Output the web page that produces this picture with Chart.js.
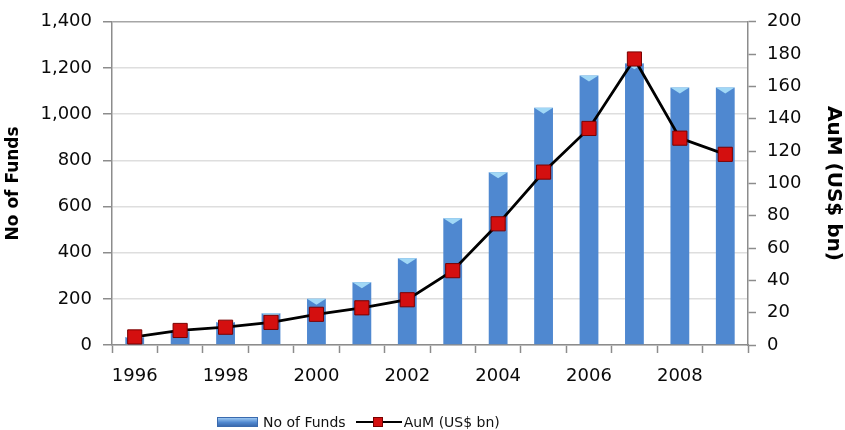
<!DOCTYPE html>
<html>
<head>
<meta charset="utf-8">
<script src="https://cdn.jsdelivr.net/npm/chart.js@4/dist/chart.umd.min.js"></script>
<style>
    body { margin: 0; background: #ffffff; font-family: 'DejaVu Sans', sans-serif; }
    #wrap { position: relative; width: 845px; height: 430px; }
    #legend {
        position: absolute; left: 217px; top: 412px; height: 20px;
        display: flex; align-items: center; white-space: nowrap;
        font-size: 14px; color: #111;
    }
    .swatch-bar {
        display: inline-block; width: 41px; height: 10px; margin-right: 5px;
        background: linear-gradient(to bottom, #9cc8f2, #5088d0 55%, #3a6aae);
        border: 1px solid #3a6aae; box-sizing: border-box;
    }
    .swatch-line {
        display: inline-block; position: relative; width: 46px; height: 14px; margin: 0 2px 0 10px;
    }
    .swatch-line::before {
        content: ''; position: absolute; left: 0; right: 0; top: 6px; height: 2px; background: #000;
    }
    .swatch-line::after {
        content: ''; position: absolute; left: 17px; top: 2px; width: 10px; height: 10px;
        background: #d40f0f; border: 1px solid #7a0000; box-sizing: border-box;
    }
</style>
</head>
<body>
<div id="wrap">
    <canvas id="chart"></canvas>
    <div id="legend">
        <span class="swatch-bar"></span><span>No of Funds</span>
        <span class="swatch-line"></span><span>AuM (US$ bn)</span>
    </div>
</div>
<script>
// Hedge fund universe, 1996-2009
const years = ['1996', '1997', '1998', '1999', '2000', '2001', '2002',
    '2003', '2004', '2005', '2006', '2007', '2008', '2009'];
const noOfFunds = [35, 60, 100, 138, 200, 272, 376, 549, 748, 1028, 1167, 1220, 1115, 1115];
const aumBn = [5, 9, 11, 14, 19, 23, 28, 46, 75, 107, 134, 177, 128, 118];
const leftTicks = [0, 200, 400, 600, 800, 1000, 1200, 1400];
const rightTicks = [0, 20, 40, 60, 80, 100, 120, 140, 160, 180, 200];

const fontFamily = "'DejaVu Sans', sans-serif";
const tickFont = { family: fontFamily, size: 18 };
const axisGrey = '#8c8c8c';
const labelColor = '#0a0a0a';

function barGradient(context) {
    const { chart, element } = context;
    const ctx = chart.ctx;
    if (!element || element.x === undefined || !element.width) {
        return '#4f88d0';
    }
    const half = element.width / 2;
    const g = ctx.createLinearGradient(element.x - half, 0, element.x + half, 0);
    g.addColorStop(0, '#3d72b8');
    g.addColorStop(0.35, '#6a9fe0');
    g.addColorStop(0.6, '#5089d2');
    g.addColorStop(1, '#3a67a8');
    return g;
}

// light bevel at the top of each column
const bevelPlugin = {
    id: 'bevel',
    afterDatasetDraw(chart, args) {
        if (args.index !== 0) return;
        const ctx = chart.ctx;
        args.meta.data.forEach((bar) => {
            const half = bar.width / 2;
            const h = Math.min(6, bar.base - bar.y);
            ctx.save();
            ctx.fillStyle = 'rgba(170, 225, 250, 0.9)';
            ctx.beginPath();
            ctx.moveTo(bar.x - half, bar.y);
            ctx.lineTo(bar.x + half, bar.y);
            ctx.lineTo(bar.x, bar.y + h);
            ctx.closePath();
            ctx.fill();
            ctx.restore();
        });
    },
};

new Chart(document.getElementById('chart'), {
    type: 'bar',
    data: {
        labels: years,
        datasets: [
            {
                type: 'bar',
                label: 'No of Funds',
                data: noOfFunds,
                yAxisID: 'y',
                backgroundColor: barGradient,
                barPercentage: 0.46,
                categoryPercentage: 0.9,
                order: 1,
            },
            {
                type: 'line',
                label: 'AuM (US$ bn)',
                data: aumBn,
                yAxisID: 'y1',
                borderColor: '#000000',
                borderWidth: 2.8,
                tension: 0,
                pointStyle: 'rect',
                pointRadius: 10,
                pointBackgroundColor: '#d40f0f',
                pointBorderColor: '#7a0000',
                pointBorderWidth: 1,
                order: 0,
            },
        ],
    },
    plugins: [bevelPlugin],
    options: {
        responsive: true,
        maintainAspectRatio: false,
        animation: false,
        layout: { padding: { left: 0, right: 0, top: 10, bottom: 0 } },
        plugins: {
            legend: { display: false },
            tooltip: { enabled: false },
        },
        scales: {
            x: {
                offset: true,
                grid: {
                    display: true,
                    offset: true,
                    drawOnChartArea: false,
                    tickLength: 8,
                    tickColor: axisGrey,
                    tickWidth: 1.5,
                },
                border: { color: axisGrey, width: 1.5 },
                ticks: {
                    autoSkip: false,
                    maxRotation: 0,
                    padding: 13,
                    color: labelColor,
                    font: tickFont,
                    callback: (value, index) => (index % 2 === 0 ? years[index] : ''),
                },
                afterFit: (scale) => { scale.height = 85; },
            },
            y: {
                position: 'left',
                min: 0,
                max: 1400,
                afterBuildTicks: (scale) => { scale.ticks = leftTicks.map((v) => ({ value: v })); },
                grid: {
                    color: (c) => (c.tick && c.tick.value === 1400 ? '#a6a6a6' : '#dedede'),
                    lineWidth: 1.5,
                    tickLength: 9,
                    tickColor: axisGrey,
                    tickWidth: 1.5,
                },
                border: { color: axisGrey, width: 1.5 },
                ticks: {
                    padding: 11,
                    color: labelColor,
                    font: tickFont,
                    callback: (value) => value.toLocaleString('en-US'),
                },
                title: {
                    display: true,
                    text: 'No of Funds',
                    color: '#000',
                    font: { family: fontFamily, size: 17, weight: 'bold' },
                    padding: { top: 3, bottom: 0 },
                },
                afterFit: (scale) => { scale.width = 112; },
            },
            y1: {
                position: 'right',
                min: 0,
                max: 200,
                afterBuildTicks: (scale) => { scale.ticks = rightTicks.map((v) => ({ value: v })); },
                grid: {
                    drawOnChartArea: false,
                    tickLength: 8,
                    tickColor: axisGrey,
                    tickWidth: 1.5,
                },
                border: { color: axisGrey, width: 1.5 },
                ticks: {
                    padding: 11,
                    color: labelColor,
                    font: tickFont,
                },
                title: {
                    display: true,
                    text: 'AuM (US$ bn)',
                    color: '#000',
                    font: { family: fontFamily, size: 20, weight: 'bold' },
                    padding: { top: 0, bottom: 0 },
                },
                afterFit: (scale) => { scale.width = 97; },
            },
        },
    },
});
</script>
</body>
</html>
